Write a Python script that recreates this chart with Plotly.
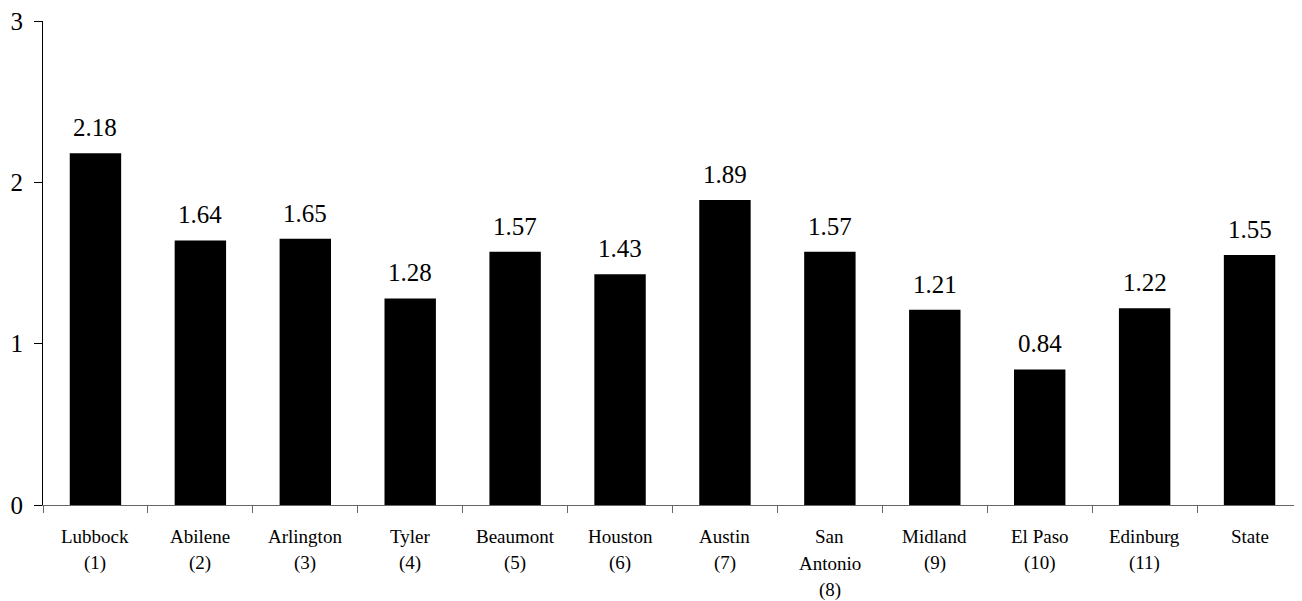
import plotly.graph_objects as go

cities = ["Lubbock", "Abilene", "Arlington", "Tyler", "Beaumont", "Houston",
          "Austin", "San Antonio", "Midland", "El Paso", "Edinburg", "State"]
label_lines = [["Lubbock", "(1)"], ["Abilene", "(2)"], ["Arlington", "(3)"],
               ["Tyler", "(4)"], ["Beaumont", "(5)"], ["Houston", "(6)"],
               ["Austin", "(7)"], ["San", "Antonio", "(8)"], ["Midland", "(9)"],
               ["El Paso", "(10)"], ["Edinburg", "(11)"], ["State"]]
values = [2.18, 1.64, 1.65, 1.28, 1.57, 1.43, 1.89, 1.57, 1.21, 0.84, 1.22, 1.55]
y_ticks = [0, 1, 2, 3]

FONT = "Liberation Serif"

fig = go.Figure()
fig.add_trace(go.Bar(x=cities, y=values, marker=dict(color="black", line=dict(width=0)),
                     width=0.49, hoverinfo="skip"))

annotations = []
for c, v in zip(cities, values):
    annotations.append(dict(x=c, y=v, xref="x", yref="y", text=f"{v:.2f}",
                            showarrow=False, yanchor="bottom", yshift=10,
                            font=dict(family=FONT, size=25, color="black")))
for c, lines in zip(cities, label_lines):
    for i, line in enumerate(lines):
        annotations.append(dict(x=c, y=0, xref="x", yref="paper", text=line,
                                showarrow=False, yanchor="middle",
                                yshift=-31 - 27 * i,
                                font=dict(family=FONT, size=19, color="black")))

fig.update_layout(
    width=1294, height=593,
    margin=dict(l=35, r=0, t=11, b=96),
    plot_bgcolor="white", paper_bgcolor="white",
    showlegend=False,
    font=dict(family=FONT, color="black"),
    annotations=annotations,
    xaxis=dict(type="category", showticklabels=False, showline=True,
               linecolor="#666", linewidth=1, ticks="outside", tickson="boundaries",
               ticklen=7, tickcolor="#666", showgrid=False, zeroline=False,
               range=[-0.5, 11.5]),
    yaxis=dict(range=[0, 3], tickvals=y_ticks, ticks="outside", ticklen=8,
               tickcolor="black", showline=True, linecolor="black", linewidth=1,
               showgrid=False, zeroline=False, ticklabelstandoff=6,
               ticklabeloverflow="allow",
               tickfont=dict(family=FONT, size=25, color="black")),
)

fig.write_html("out.html")
